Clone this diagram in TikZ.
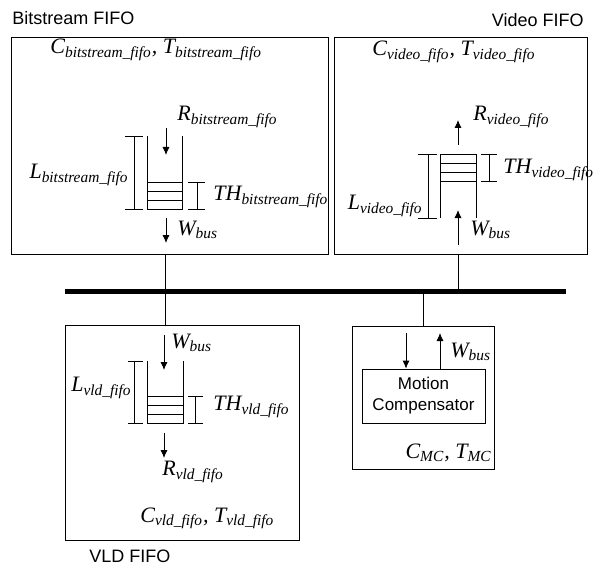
\documentclass[tikz,border=0pt]{standalone}
\usepackage{fontspec}
\setmainfont{Liberation Serif}
\setsansfont{Liberation Sans}
\usetikzlibrary{arrows.meta}

\newcommand{\ix}[2]{#1\textsubscript{#2}}

\tikzset{
  var/.style={font=\itshape\fontsize{11}{12}\selectfont, inner sep=0pt},
  title/.style={font=\sffamily\fontsize{9}{10}\selectfont, inner sep=0pt},
  flow/.style={-{Latex[length=4pt, width=3.5pt]}, thin},
}

\begin{document}
\begin{tikzpicture}[x=0.5pt, y=-0.5pt]
  \useasboundingbox (0,0) rectangle (597,566);
  % frames and bus
  \draw (11,37) rectangle (328,254);
  \draw (334,37) rectangle (587,254);
  \draw (65,325) rectangle (299,540);
  \draw (352,326) rectangle (494,469);
  \coordinate (busl) at (65,291);
  \coordinate (busr) at (566,291);
  \draw[line width=2.5pt] (busl) -- (busr);
  \coordinate (bsout) at (165,254);
  \coordinate (vldin) at (165,325);
  \coordinate (vidin) at (458,254);
  \coordinate (mcin) at (423,326);
  \draw (bsout) -- (vldin);
  \draw (vidin) -- (vidin |- busl);
  \draw (mcin |- busl) -- (mcin);

  \node[title, anchor=west] (bstitle) at (12,18) {Bitstream FIFO};
  \node[title, anchor=east] (vidtitle) at (584,20) {Video FIFO};
  \node[title, anchor=west] (vldtitle) at (89,556) {VLD FIFO};

  % bitstream fifo
  \node[var, anchor=west] (bsct) at (50,50) {\ix{C}{bitstream\_fifo}, \ix{T}{bitstream\_fifo}};
  \node[var, anchor=west] (bsr) at (177,117) {\ix{R}{bitstream\_fifo}};
  \draw (147,136) -- (147,209) -- (182,209) -- (182,136);
  \foreach \y in {182,191,200} \draw (147,\y) -- (182,\y);
  \draw (134,136) -- (134,209) (125,136) -- (143,136) (125,209) -- (143,209);
  \draw (197,182) -- (197,209) (188,182) -- (205,182) (188,209) -- (205,209);
  \node[var, anchor=east] (bsl) at (129,175) {\ix{L}{bitstream\_fifo}};
  \node[var, anchor=west] (bsth) at (213,197) {\ix{TH}{bitstream\_fifo}};
  \draw[flow] (166,128) -- (166,155);
  \draw[flow] (166,218) -- (166,243);
  \node[var, anchor=west] (bsw) at (177,230) {\ix{W}{bus}};

  % video fifo
  \node[var, anchor=west] (vidct) at (372,52) {\ix{C}{video\_fifo}, \ix{T}{video\_fifo}};
  \node[var, anchor=west] (vidr) at (473,117) {\ix{R}{video\_fifo}};
  \draw[flow] (458,145) -- (458,120);
  \draw (440,218) -- (440,154) -- (476,154) -- (476,218);
  \foreach \y in {163,172,181} \draw (440,\y) -- (476,\y);
  \draw (428,154) -- (428,218) (418,154) -- (437,154) (418,218) -- (437,218);
  \draw (489,154) -- (489,181) (481,154) -- (497,154) (481,181) -- (497,181);
  \node[var, anchor=east] (vidl) at (423,206) {\ix{L}{video\_fifo}};
  \node[var, anchor=west] (vidth) at (503,170) {\ix{TH}{video\_fifo}};
  \draw[flow] (458,245) -- (458,210);
  \node[var, anchor=west] (vidw) at (470,230) {\ix{W}{bus}};

  % vld fifo
  \node[var, anchor=west] (vldw) at (171,343) {\ix{W}{bus}};
  \draw[flow] (164,335) -- (164,370);
  \draw (147,361) -- (147,423) -- (183,423) -- (183,361);
  \foreach \y in {396,405,414} \draw (147,\y) -- (183,\y);
  \draw (134,361) -- (134,423) (128,361) -- (143,361) (128,423) -- (143,423);
  \draw (195,396) -- (195,423) (188,396) -- (203,396) (188,423) -- (203,423);
  \node[var, anchor=east] (vldl) at (132,388) {\ix{L}{vld\_fifo}};
  \node[var, anchor=west] (vldth) at (213,407) {\ix{TH}{vld\_fifo}};
  \draw[flow] (164,433) -- (164,458);
  \node[var, anchor=west] (vldr) at (162,472) {\ix{R}{vld\_fifo}};
  \node[var, anchor=west] (vldct) at (140,518) {\ix{C}{vld\_fifo}, \ix{T}{vld\_fifo}};

  % motion compensator
  \node[draw, minimum width=61.5pt, minimum height=27pt, align=center, inner sep=1pt,
        font=\sffamily\fontsize{8.5}{10.5}\selectfont] (mc) at (423.5,396) {Motion\\Compensator};
  \coordinate (mcdown) at (406,333);
  \coordinate (mcup) at (440,333);
  \draw[flow] (mcdown) -- (mcdown |- mc.north);
  \draw[flow] (mcup |- mc.north) -- (mcup);
  \node[var, anchor=west] (mcw) at (450,352) {\ix{W}{bus}};
  \node[var, anchor=east] (mcct) at (492,453) {\ix{C}{MC}, \ix{T}{MC}};
\end{tikzpicture}
\end{document}
